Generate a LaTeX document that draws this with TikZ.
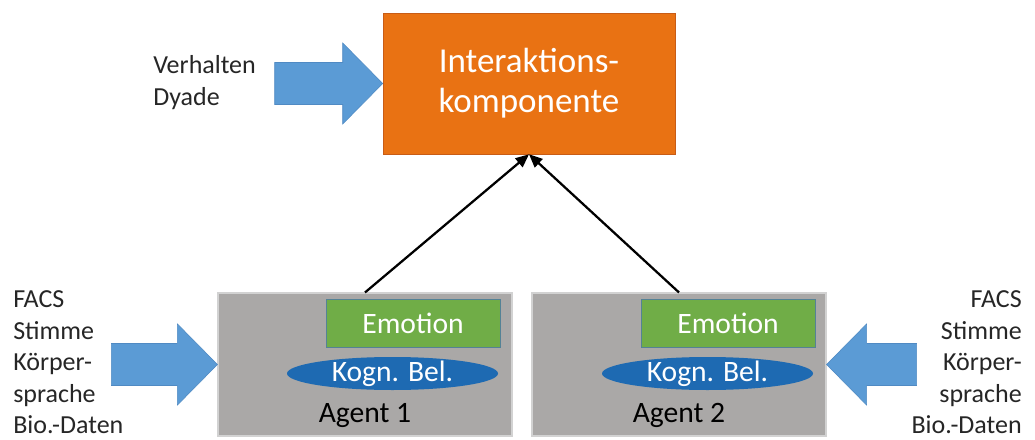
\documentclass[tikz,border=0pt]{standalone}
\usepackage{fontspec}
\setmainfont{Carlito}
\usetikzlibrary{shapes.geometric,arrows.meta}

\definecolor{interOrange}{RGB}{233,114,19}
\definecolor{interEdge}{RGB}{200,92,22}
\definecolor{arrBlue}{RGB}{91,155,213}
\definecolor{arrEdge}{RGB}{80,138,195}
\definecolor{agentGrey}{RGB}{170,168,167}
\definecolor{emoGreen}{RGB}{112,173,71}
\definecolor{emoEdge}{RGB}{84,130,150}
\definecolor{kogBlue}{RGB}{30,106,178}

\begin{document}
\begin{tikzpicture}[x=0.75pt,y=0.75pt,yscale=-1,xscale=1,
  inter/.style={draw=interEdge,fill=interOrange,text=white,align=center,
    minimum width=219pt,minimum height=105.75pt,
    font=\fontsize{26.25}{30}\selectfont},
  agent/.style={draw=gray!35,fill=agentGrey,line width=0.8pt,
    minimum width=220.5pt,minimum height=107.25pt},
  emo/.style={draw=emoEdge,fill=emoGreen,text=white,
    minimum width=130.5pt,minimum height=36pt,
    font=\fontsize{22.2}{26}\selectfont},
  kog/.style={ellipse,fill=kogBlue,text=white,inner sep=0pt,
    minimum width=158.25pt,minimum height=24.75pt,
    text height=14pt,text depth=2.4pt,
    font=\fontsize{22.2}{26}\selectfont},
  aglabel/.style={anchor=base,font=\fontsize{22.2}{26}\selectfont},
  inlabel/.style={inner sep=0pt,text=black!85,font=\fontsize{19.5}{23.6}\selectfont},
  blockarr/.style={draw=arrEdge,fill=arrBlue,line width=0.4pt},
  link/.style={-{Triangle[length=10pt,width=8.5pt]},line width=1.7pt}]
\useasboundingbox (0,0) rectangle (1035,439);

% Interaktionskomponente
\node[inter] (inter) at (529,83.5) {Interaktions-\\komponente};

% Agents
\node[agent] (ag1) at (365,364.5) {};
\node[agent] (ag2) at (679,364.5) {};
\node[emo] (emo1) at (413,323) {Emotion};
\node[emo] (emo2) at (728,323) {Emotion};
\node[kog] (kog1) at (392.5,373.5) {Kogn. Bel.};
\node[kog] (kog2) at (707.5,373.5) {Kogn. Bel.};
\node[aglabel] (lab1) at (365,422) {Agent 1};
\node[aglabel] (lab2) at (679,422) {Agent 2};

% Inputs
\node[inlabel,anchor=west,align=left] (verh) at (153,82.5) {Verhalten\\Dyade};
\node[inlabel,anchor=west,align=left] (in1) at (13,362.5) {FACS\\Stimme\\Körper-\\sprache\\Bio.-Daten};
\node[inlabel,anchor=east,align=right] (in2) at (1022,362.5) {FACS\\Stimme\\Körper-\\sprache\\Bio.-Daten};

% Block arrows
\draw[blockarr] (inter.west) -- ++(-40,-40.5) -- ++(0,19.5) -- ++(-68,0) -- ++(0,42) -- ++(68,0) -- ++(0,19.5) -- cycle;
\draw[blockarr] (ag1.west) -- ++(-40,-40.5) -- ++(0,19.5) -- ++(-66,0) -- ++(0,42) -- ++(66,0) -- ++(0,19.5) -- cycle;
\draw[blockarr] (ag2.east) -- ++(40,-40.5) -- ++(0,19.5) -- ++(50,0) -- ++(0,42) -- ++(-50,0) -- ++(0,19.5) -- cycle;

% Links
\draw[link] (ag1.north) -- (inter.south);
\draw[link] (ag2.north) -- (inter.south);
\end{tikzpicture}
\end{document}
